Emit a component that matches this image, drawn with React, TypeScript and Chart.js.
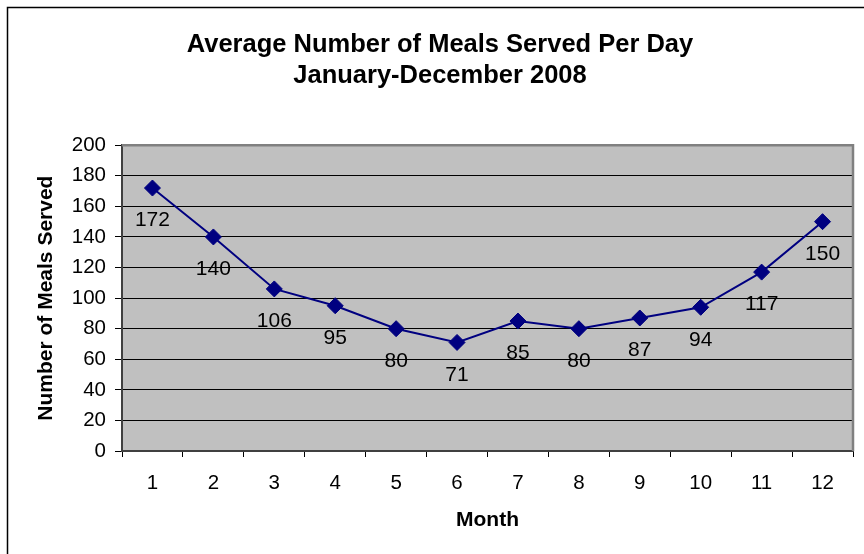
import React, { useEffect, useRef } from "react";
import { Chart, registerables } from "chart.js";

Chart.register(...registerables);

const months = ["1", "2", "3", "4", "5", "6", "7", "8", "9", "10", "11", "12"];
const meals = [172, 140, 106, 95, 80, 71, 85, 80, 87, 94, 117, 150];
const titleLines = ["Average Number of Meals Served Per Day", "January-December 2008"];
const xTitle = "Month";
const yTitle = "Number of Meals Served";
const yMin = 0;
const yMax = 200;
const yStep = 20;

const FONT = "'Liberation Sans', Arial, Helvetica, sans-serif";

const frame = {
  id: "frame",
  beforeDraw(chart: any) {
    const { ctx, chartArea: a } = chart;
    ctx.save();
    ctx.fillStyle = "#ffffff";
    ctx.fillRect(0, 0, chart.width, chart.height);
    ctx.fillStyle = "#c0c0c0";
    ctx.fillRect(a.left, a.top, a.right - a.left, a.bottom - a.top);
    ctx.strokeStyle = "#000";
    ctx.lineWidth = 1.5;
    ctx.beginPath();
    ctx.moveTo(7.5, chart.height);
    ctx.lineTo(7.5, 7.5);
    ctx.lineTo(chart.width, 7.5);
    ctx.stroke();
    ctx.restore();
  },
  beforeDatasetsDraw(chart: any) {
    const { ctx, chartArea: a } = chart;
    ctx.save();
    ctx.strokeStyle = "#808080";
    ctx.lineWidth = 2.5;
    ctx.beginPath();
    ctx.moveTo(a.left, a.top);
    ctx.lineTo(a.right, a.top);
    ctx.lineTo(a.right, a.bottom);
    ctx.stroke();
    ctx.restore();
  },
  afterDatasetsDraw(chart: any) {
    const { ctx } = chart;
    const meta = chart.getDatasetMeta(0);
    const data = chart.data.datasets[0].data;
    ctx.save();
    ctx.fillStyle = "#000";
    ctx.font = `21px ${FONT}`;
    ctx.textAlign = "center";
    ctx.textBaseline = "middle";
    meta.data.forEach((pt: any, i: number) => {
      ctx.fillText(String(data[i]), pt.x, pt.y + 32.5);
    });
    ctx.restore();
  },
};

export default function App() {
  const ref = useRef<HTMLCanvasElement>(null);
  useEffect(() => {
    const chart = new Chart(ref.current!, {
      type: "line",
      data: {
        labels: months,
        datasets: [
          {
            data: meals,
            borderColor: "#000080",
            backgroundColor: "#000080",
            borderWidth: 2,
            pointStyle: "rectRot",
            pointRadius: 8,
            pointBorderWidth: 1,
            pointBackgroundColor: "#000080",
            pointBorderColor: "#000080",
            tension: 0,
          },
        ],
      },
      options: {
        responsive: false,
        animation: false,
        layout: { padding: { left: 27, right: 11, top: 0, bottom: 0 } },
        plugins: {
          legend: { display: false },
          tooltip: { enabled: false },
          title: {
            display: true,
            text: titleLines,
            color: "#000",
            font: { family: FONT, size: 25.5, weight: "bold", lineHeight: 1.22 },
            padding: { top: 29, bottom: 54 },
          },
        },
        scales: {
          x: {
            offset: true,
            afterFit(scale: any) {
              scale.height = 103;
            },
            grid: {
              offset: true,
              drawOnChartArea: false,
              drawTicks: true,
              tickLength: 6,
              color: "#000",
              tickColor: "#000",
            },
            border: { display: true, color: "#404040", width: 2 },
            ticks: {
              color: "#000",
              font: { family: FONT, size: 20.5 },
              padding: 14,
              maxRotation: 0,
            },
            title: {
              display: true,
              text: xTitle,
              color: "#000",
              font: { family: FONT, size: 21, weight: "bold", lineHeight: 1.2 },
              padding: { top: 0, bottom: 21 },
            },
          },
          y: {
            min: yMin,
            max: yMax,
            afterFit(scale: any) {
              scale.width = 95;
            },
            grid: {
              color: (c: any) => (c.tick && c.tick.value === yMax ? "#808080" : "#000"),
              tickColor: "#000",
              lineWidth: 1,
              drawTicks: true,
              tickLength: 7,
            },
            border: { display: true, color: "#404040", width: 2 },
            ticks: {
              stepSize: yStep,
              color: "#000",
              font: { family: FONT, size: 20.5 },
              padding: 9,
            },
            title: {
              display: true,
              text: yTitle,
              color: "#000",
              font: { family: FONT, size: 21, weight: "bold", lineHeight: 1.2 },
              padding: { top: 7, bottom: 0 },
            },
          },
        },
      },
      plugins: [frame],
    });
    return () => chart.destroy();
  }, []);
  return (
    <div style={{ position: "fixed", left: 0, top: 0, width: 864, height: 554, overflow: "hidden", background: "#fff" }}>
      <canvas ref={ref} width={864} height={554} style={{ display: "block" }} />
    </div>
  );
}
